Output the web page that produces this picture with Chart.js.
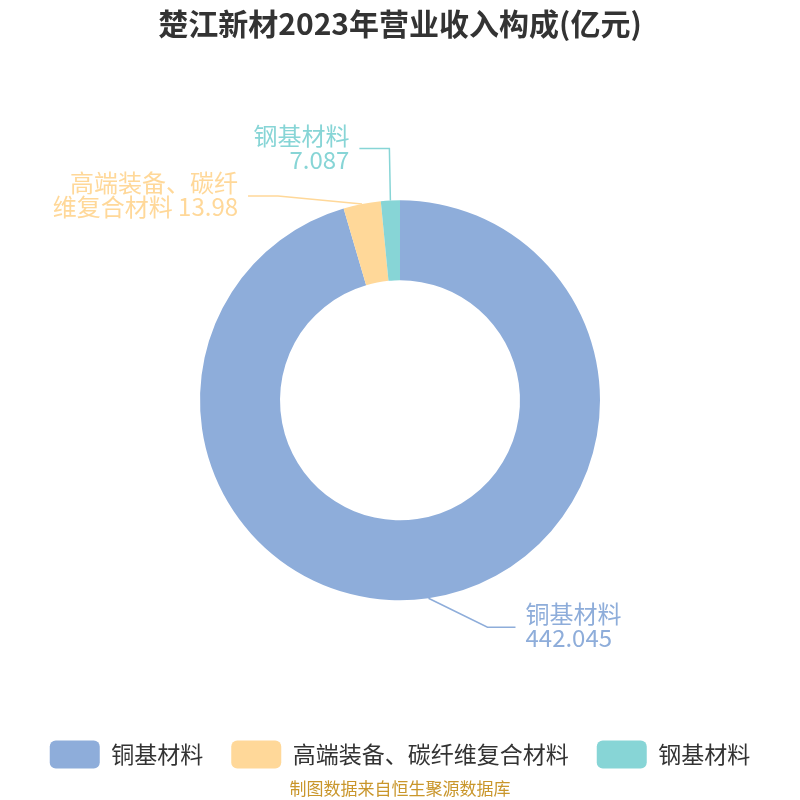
<!DOCTYPE html>
<html>
<head>
<meta charset="utf-8">
<script src="https://cdn.jsdelivr.net/npm/chart.js@4/dist/chart.umd.min.js"></script>
<style>
  html,body{margin:0;padding:0;background:#fff;}
  #wrap{width:800px;height:800px;}
</style>
</head>
<body>
<div id="wrap"><canvas id="pie" width="800" height="800"></canvas></div>
<script>
/* ===== 資料 ===== */
const categories = ['铜基材料', '高端装备、碳纤维复合材料', '钢基材料'];
const revenues   = [442.045, 13.98, 7.087];
const colors     = ['#8EADDA', '#FFD899', '#87D5D6'];

const FONT = '"Noto Sans CJK SC", "Noto Sans", sans-serif';

// 標籤引線：從扇區外緣出發的折線偏移（樣式用）
const leader = [
  { bend:[59, 29],  run: 28,  side:'right' },
  { bend:[-84, -8], run:-30,  side:'left'  },
  { bend:[-1, -52], run:-30,  side:'left'  }
];

function labelLines(name, val){
  if(name.length > 7) return [name.slice(0,7), name.slice(7) + ' ' + val];
  return [name, String(val)];
}

/* ===== 外部標籤 ===== */
const outLabels = {
  id:'outLabels',
  afterDatasetsDraw(chart){
    const ctx = chart.ctx;
    const meta = chart.getDatasetMeta(0);
    meta.data.forEach((arc, i)=>{
      const a = (arc.startAngle + arc.endAngle) / 2;
      const px = arc.x + Math.cos(a) * arc.outerRadius;
      const py = arc.y + Math.sin(a) * arc.outerRadius;
      const L = leader[i];
      const bx = px + L.bend[0], by = py + L.bend[1];
      const ex = bx + L.run;
      ctx.save();
      ctx.strokeStyle = colors[i];
      ctx.lineWidth = 1.5;
      ctx.beginPath(); ctx.moveTo(px, py); ctx.lineTo(bx, by); ctx.lineTo(ex, by); ctx.stroke();
      ctx.fillStyle = colors[i];
      ctx.font = '24px ' + FONT;
      ctx.textBaseline = 'middle';
      const lines = labelLines(categories[i], revenues[i]);
      if(L.side === 'right'){ ctx.textAlign = 'left'; lines.forEach((t,k)=>ctx.fillText(t, ex + 10, by - 13 + k*24)); }
      else { ctx.textAlign = 'right'; lines.forEach((t,k)=>ctx.fillText(t, ex - 10, by - 13 + k*24)); }
      ctx.restore();
    });
  }
};

new Chart(document.getElementById('pie'), {
  type:'doughnut',
  data:{
    labels: categories,
    datasets:[{
      data: revenues,
      backgroundColor: colors,
      borderWidth: 0,
      radius: 200,
      cutout: '60%'
    }]
  },
  options:{
    responsive:false,
    animation:false,
    layout:{ padding:{ top:0, bottom:0 } },
    plugins:{
      title:{
        display:true,
        text:'楚江新材2023年营业收入构成(亿元)',
        color:'#333',
        font:{ family:FONT, size:30, weight:'bold' },
        padding:{ top:6, bottom:46 }
      },
      subtitle:{
        display:true,
        position:'bottom',
        text:'制图数据来自恒生聚源数据库',
        color:'#C9962B',
        font:{ family:FONT, size:17 },
        padding:{ top:0, bottom:1 }
      },
      legend:{
        position:'bottom',
        labels:{
          color:'#333',
          font:{ family:FONT, size:23 },
          boxWidth:50, boxHeight:28,
          useBorderRadius:true, borderRadius:6,
          padding:28
        }
      },
      tooltip:{ enabled:false }
    }
  },
  plugins:[outLabels]
});
</script>
</body>
</html>
